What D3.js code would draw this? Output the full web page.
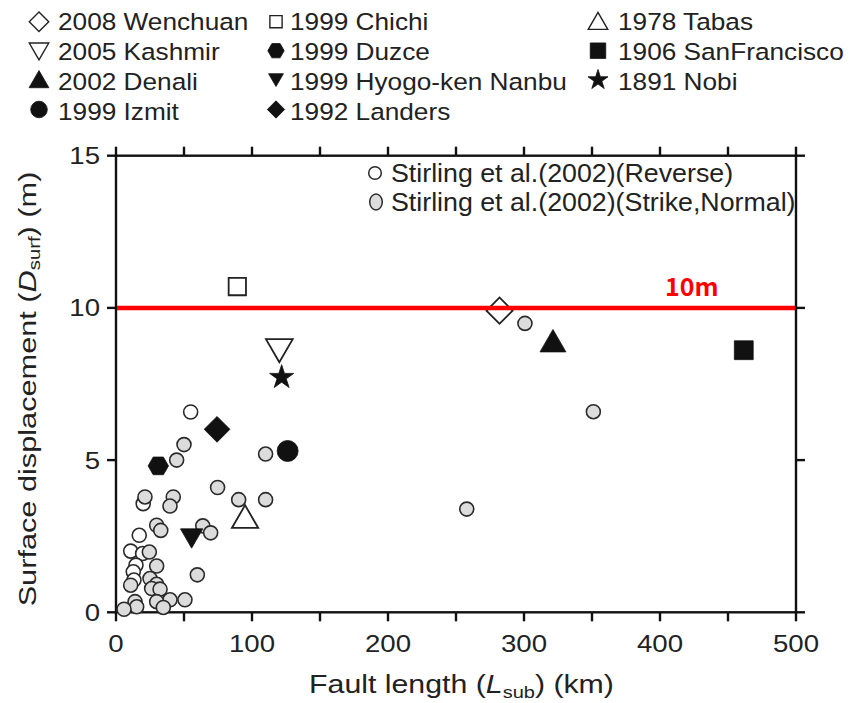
<!DOCTYPE html>
<html><head><meta charset="utf-8">
<script src="https://cdn.jsdelivr.net/npm/d3@7"></script>
<style>body{margin:0;background:#fff}svg{display:block}</style>
</head><body><svg id="c" width="850" height="703"></svg>
<script>
// ---------- data ----------
const reverseX = [54.9, 17.1, 10.8, 19.6, 14.7, 12.7, 13.2, 20.0];
const reverseY = [6.58, 2.53, 2.01, 1.93, 1.55, 1.33, 1.06, 3.57];
const strikeX = [50.0, 44.6, 110, 74.7, 21.3, 42.1, 39.7, 90.2, 110, 29.9, 32.9, 63.8, 69.6, 24.5, 29.9, 25.0, 10.8, 29.9, 26.2, 32.4, 59.8, 39.7, 50.7, 29.9, 14.0, 15.2, 5.9, 34.8, 300.7, 351, 257.9];
const strikeY = [5.51, 5.0, 5.2, 4.1, 3.79, 3.79, 3.49, 3.7, 3.7, 2.86, 2.69, 2.84, 2.61, 1.98, 1.52, 1.11, 0.89, 0.92, 0.78, 0.76, 1.23, 0.41, 0.41, 0.35, 0.35, 0.18, 0.10, 0.16, 9.49, 6.59, 3.39];
const eventNames = ["2008 Wenchuan","2005 Kashmir","2002 Denali","1999 Izmit","1999 Chichi","1999 Duzce","1999 Hyogo-ken Nanbu","1992 Landers","1978 Tabas","1906 SanFrancisco","1891 Nobi"];
const eventX = [282, 120.1, 321.3, 126.2, 89.2, 31.1, 55.6, 74.3, 94.9, 461.6, 121.8];
const eventY = [9.91, 8.72, 8.80, 5.30, 10.70, 4.81, 2.53, 6.01, 3.02, 8.61, 7.72];
const xTicks = [0, 50, 100, 150, 200, 250, 300, 350, 400, 450, 500];
const yTicks = [0, 5, 10, 15];
const thresholdValue = 10;
const thresholdLabel = "10m";
const seriesLabels = ["Stirling et al.(2002)(Reverse)", "Stirling et al.(2002)(Strike,Normal)"];

// ---------- styles (per event) ----------
const evStyle = {
  "2008 Wenchuan":        {shape:"diamond", fill:"#fff", size:340, lsize:190},
  "2005 Kashmir":         {shape:"tridown", fill:"#fff", size:310, lsize:165},
  "2002 Denali":          {shape:"triup",   fill:"#111", size:290, lsize:170},
  "1999 Izmit":           {shape:"circle",  fill:"#111", size:10.5, lsize:8.3},
  "1999 Chichi":          {shape:"square",  fill:"#fff", size:300, lsize:150},
  "1999 Duzce":           {shape:"hex",     fill:"#111", size:10.2, lsize:8.2},
  "1999 Hyogo-ken Nanbu": {shape:"tridown", fill:"#111", size:215, lsize:95},
  "1992 Landers":         {shape:"diamond", fill:"#111", size:330, lsize:150},
  "1978 Tabas":           {shape:"triup",   fill:"#fff", size:300, lsize:165},
  "1906 SanFrancisco":    {shape:"square",  fill:"#111", size:355, lsize:240},
  "1891 Nobi":            {shape:"star",    fill:"#111", size:180, lsize:125}
};

const svg = d3.select("#c");
const FONT = "'Liberation Sans', Arial, Helvetica, sans-serif";
const xs = d3.scaleLinear().domain([0, 500]).range([116, 796]);
const ys = d3.scaleLinear().domain([0, 15]).range([612.3, 155.7]);

function symPath(shape, size) {
  if (shape === "circle") return d3.symbol(d3.symbolCircle, Math.PI * size * size)();
  if (shape === "hex") {
    const pts = d3.range(6).map(i => [size * Math.cos(i * Math.PI / 3), size * Math.sin(i * Math.PI / 3)]);
    return "M" + pts.map(p => p.join(",")).join("L") + "Z";
  }
  if (shape === "diamond" || shape === "square") return d3.symbol(d3.symbolSquare, size)();
  if (shape === "triup" || shape === "tridown") return d3.symbol(d3.symbolTriangle, size)();
  if (shape === "star") return d3.symbol(d3.symbolStar, size)();
}
function symRot(shape) { return shape === "diamond" ? 45 : (shape === "tridown" ? 180 : 0); }
function drawSym(g, shape, fill, size, x, y, sw) {
  g.append("path").attr("d", symPath(shape, size))
    .attr("transform", `translate(${x},${y}) rotate(${symRot(shape)})`)
    .attr("fill", fill).attr("stroke", fill === "#fff" ? "#222" : "#111")
    .attr("stroke-width", fill === "#fff" ? sw : 0.8).attr("stroke-linejoin", "miter");
}

// ---------- frame & ticks ----------
const axis = svg.append("g").attr("stroke", "#111").attr("stroke-width", 2.4);
axis.append("rect").attr("x", xs(0)).attr("y", ys(15)).attr("width", xs(500) - xs(0)).attr("height", ys(0) - ys(15)).attr("fill", "none");
const TL = 9;
xTicks.forEach(v => {
  axis.append("line").attr("x1", xs(v)).attr("x2", xs(v)).attr("y1", ys(0)).attr("y2", ys(0) + TL);
  axis.append("line").attr("x1", xs(v)).attr("x2", xs(v)).attr("y1", ys(15)).attr("y2", ys(15) - TL);
});
yTicks.forEach(v => {
  axis.append("line").attr("x1", xs(0)).attr("x2", xs(0) - TL).attr("y1", ys(v)).attr("y2", ys(v));
  axis.append("line").attr("x1", xs(500)).attr("x2", xs(500) + TL).attr("y1", ys(v)).attr("y2", ys(v));
});

const TSX = 1.15;
xTicks.filter(v => v % 100 === 0).forEach(v => {
  svg.append("text").attr("transform", `translate(${xs(v)},652) scale(${TSX},1)`)
    .attr("text-anchor", "middle").attr("font-family", FONT).attr("font-size", 24).attr("fill", "#222").text(v);
});
yTicks.forEach(v => {
  svg.append("text").attr("transform", `translate(100,${ys(v) + 8.5}) scale(${TSX},1)`)
    .attr("text-anchor", "end").attr("font-family", FONT).attr("font-size", 24).attr("fill", "#222").text(v);
});

// axis titles
function titleWithSub(g, main, italic, sub, tail, fs) {
  const t = g.append("text").attr("font-family", FONT).attr("font-size", fs).attr("fill", "#222").attr("text-anchor", "middle");
  t.append("tspan").text(main);
  t.append("tspan").attr("font-style", "italic").text(italic);
  t.append("tspan").attr("font-size", fs * 0.66).attr("dy", fs * 0.18).text(sub);
  t.append("tspan").attr("dy", -fs * 0.18).text(tail);
  return t;
}
const xt = svg.append("g");
const xtt = titleWithSub(xt, "Fault length (", "L", "sub", ") (km)", 26);
const xw = xtt.node().getBBox().width;
xt.attr("transform", `translate(461.5,693) scale(${305 / xw},1)`);

const yt = svg.append("g");
const ytt = titleWithSub(yt, "Surface displacement (", "D", "surf", ") (m)", 24.5);
const yw = ytt.node().getBBox().width;
yt.attr("transform", `translate(36,389) rotate(-90) scale(${435 / yw},1)`);

// ---------- Stirling points ----------
const pts = svg.append("g");
reverseX.forEach((x, i) => {
  pts.append("circle").attr("cx", xs(x)).attr("cy", ys(reverseY[i])).attr("r", 7)
    .attr("fill", "#fff").attr("stroke", "#2a2a2a").attr("stroke-width", 1.6);
});
strikeX.forEach((x, i) => {
  pts.append("circle").attr("cx", xs(x)).attr("cy", ys(strikeY[i])).attr("r", 7)
    .attr("fill", "#dcdcdc").attr("stroke", "#2a2a2a").attr("stroke-width", 1.6);
});

// ---------- event markers ----------
const ev = svg.append("g");
eventNames.forEach((n, i) => {
  const s = evStyle[n];
  drawSym(ev, s.shape, s.fill, s.size, xs(eventX[i]), ys(eventY[i]), 1.8);
});

// ---------- threshold line ----------
svg.append("line").attr("x1", xs(0) + 1).attr("x2", xs(500) - 1).attr("y1", ys(thresholdValue)).attr("y2", ys(thresholdValue))
  .attr("stroke", "#ff0000").attr("stroke-width", 4.5);
svg.append("text").attr("x", 665).attr("y", 296).attr("font-family", "'Noto Sans CJK KR', 'DejaVu Sans', sans-serif")
  .attr("font-weight", "bold").attr("font-size", 25).attr("fill", "#ff0000").text(thresholdLabel);

// ---------- inner legend ----------
const il = svg.append("g");
il.append("circle").attr("cx", 375).attr("cy", 173).attr("r", 6.3).attr("fill", "#fff").attr("stroke", "#2a2a2a").attr("stroke-width", 1.5);
il.append("ellipse").attr("cx", 376).attr("cy", 202).attr("rx", 6.3).attr("ry", 8).attr("fill", "#dcdcdc").attr("stroke", "#2a2a2a").attr("stroke-width", 1.5);
seriesLabels.forEach((l, i) => {
  il.append("text").attr("transform", `translate(391,${182 + i * 29}) scale(1.03,1)`)
    .attr("font-family", FONT).attr("font-size", 26).attr("fill", "#222").text(l);
});

// ---------- top legend ----------
const colSym = [39, 276, 598], colTxt = [58, 290, 618];
const rowSym = [21.7, 50.7, 80, 109.5], rowTxt = [29.5, 59.5, 89.5, 119.5];
const legendOrder = [[0, 0], [0, 1], [0, 2], [0, 3], [1, 0], [1, 1], [1, 2], [1, 3], [2, 0], [2, 1], [2, 2]];
const tl = svg.append("g");
eventNames.forEach((n, i) => {
  const [c, r] = legendOrder[i];
  const s = evStyle[n];
  let sy = rowSym[r];
  if (s.shape === "triup") sy += 2; if (s.shape === "tridown") sy -= 2;
  drawSym(tl, s.shape, s.fill, s.lsize, colSym[c], sy, 1.4);
  tl.append("text").attr("transform", `translate(${colTxt[c]},${rowTxt[r]}) scale(1.07,1)`)
    .attr("font-family", FONT).attr("font-size", 24.5).attr("fill", "#222").text(n);
});
</script></body></html>
